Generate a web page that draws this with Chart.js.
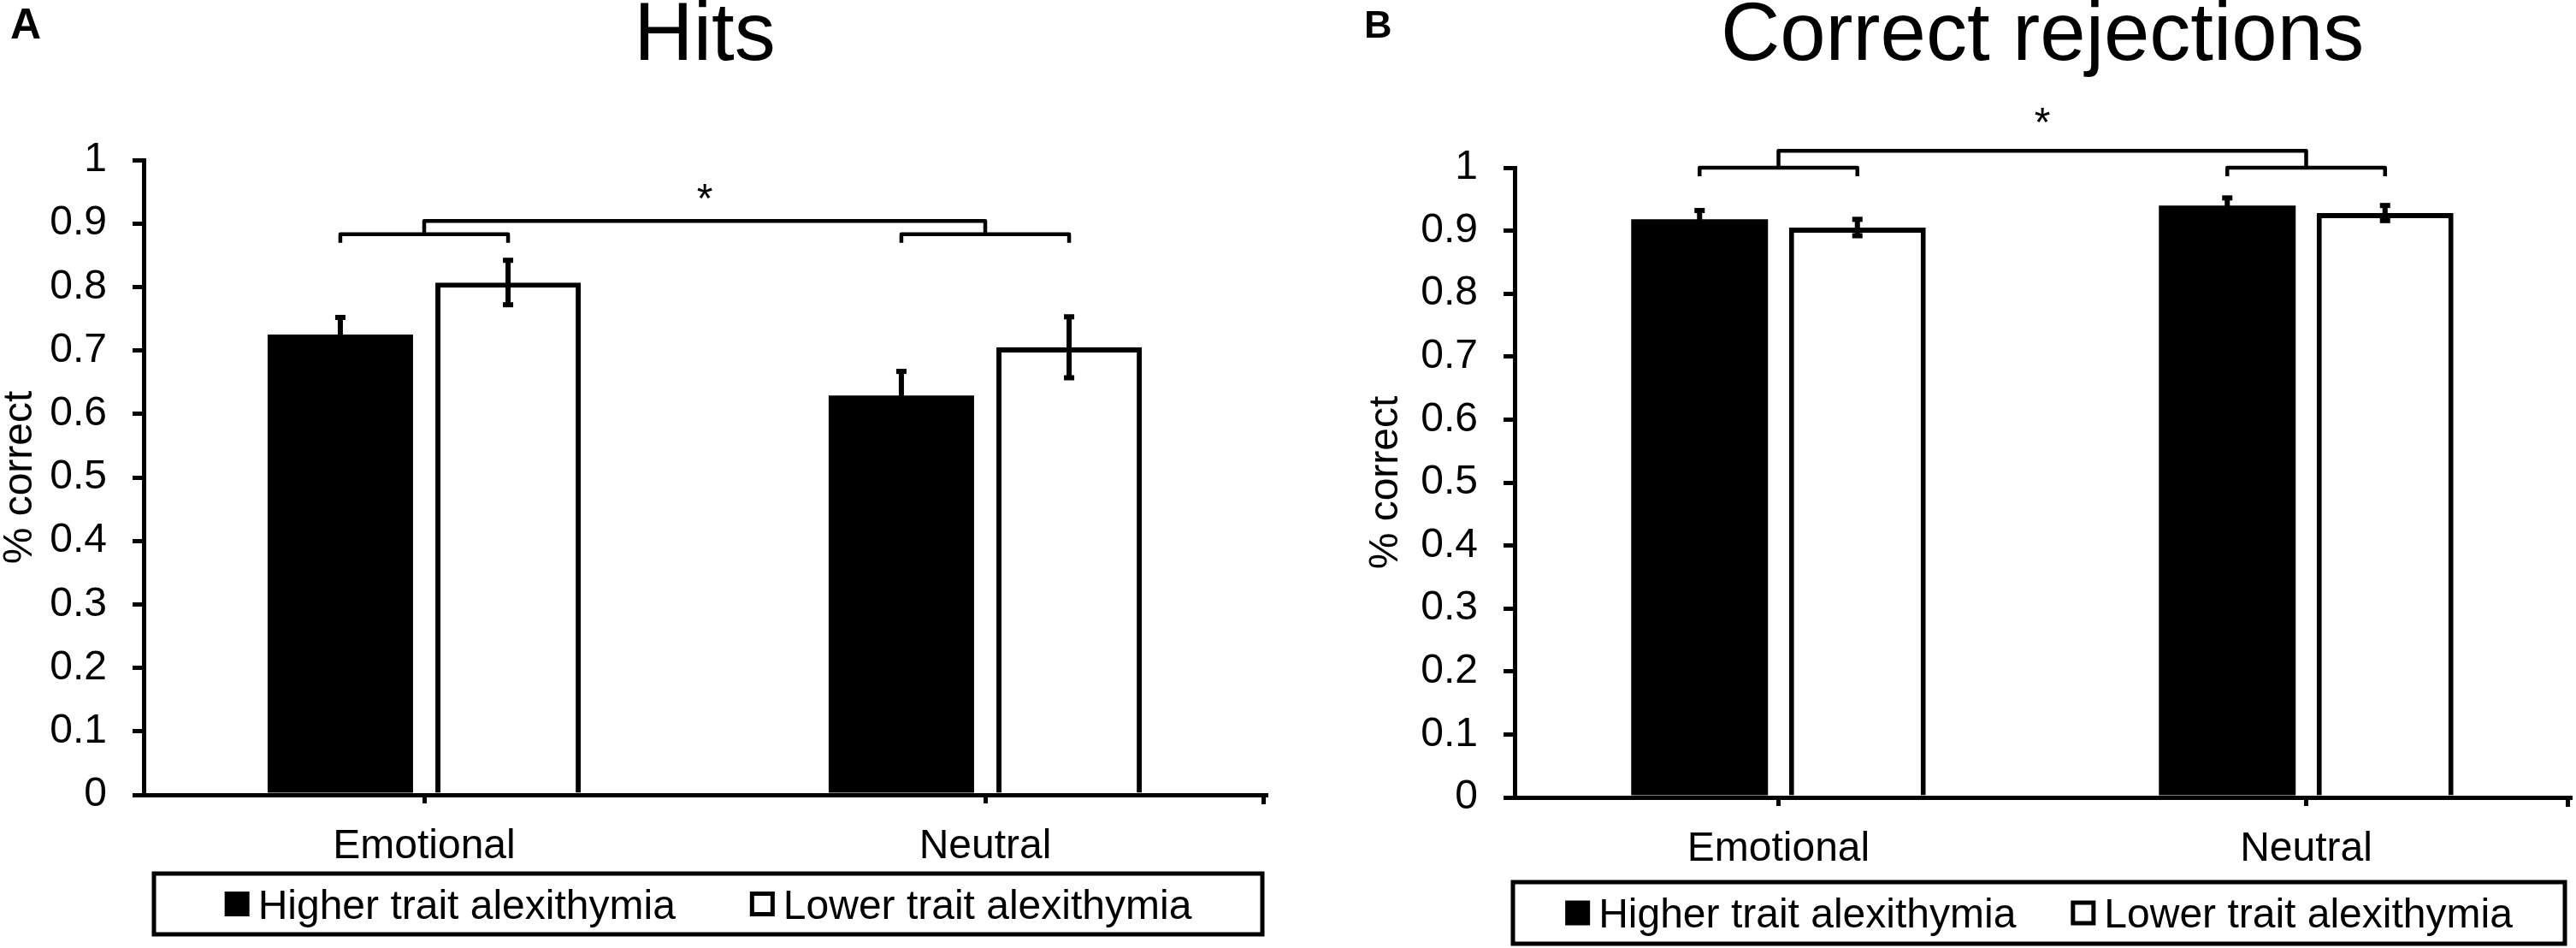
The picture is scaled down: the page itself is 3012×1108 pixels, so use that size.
<!DOCTYPE html>
<html>
<head>
<meta charset="utf-8">
<script src="https://cdn.jsdelivr.net/npm/chart.js@4.4.1/dist/chart.umd.min.js"></script>
<style>
html,body{margin:0;padding:0;background:#fff;overflow:hidden}
#wrap{position:relative;width:3012px;height:1108px;background:#fff}
canvas{position:absolute;top:0}
#hits{left:0}
#rej{left:1506px}
</style>
</head>
<body>
<div id="wrap">
  <canvas id="hits" width="1506" height="1108"></canvas>
  <canvas id="rej" width="1506" height="1108"></canvas>
</div>
<script>
const categories = ['Emotional', 'Neutral']
const seriesNames = ['Higher trait alexithymia', 'Lower trait alexithymia']
const yTickLabels = ['0', '0.1', '0.2', '0.3', '0.4', '0.5', '0.6', '0.7', '0.8', '0.9', '1']

// panel A - hits
const hitsHigher = [0.725, 0.629]
const hitsLower = [0.807, 0.705]
const hitsHigherErr = [0.027, 0.038]
const hitsLowerErr = [0.035, 0.048]
// panel B - correct rejections
const rejHigher = [0.918, 0.940]
const rejLower = [0.905, 0.928]
const rejHigherErr = [0.014, 0.012]
const rejLowerErr = [0.013, 0.012]

// significance marks, in % correct units: pair bracket, main bracket, star
const hitsSig = [0.883, 0.904, 0.954]
const rejSig = [1.0, 1.027, 1.087]

const FONT = '"Liberation Sans", Arial, Helvetica, sans-serif'
Chart.defaults.font.family = FONT
Chart.defaults.color = '#000'

// error bars, brackets, legend box, panel letter
const decor = {
  id: 'decor',
  afterDatasetsDraw(chart, args, o) {
    const ctx = chart.ctx
    const xs = chart.scales.x
    const ys = chart.scales.y
    ctx.save()
    ctx.fillStyle = '#000'
    ctx.strokeStyle = '#000'
    o.errors.forEach((errs, d) => {
      const meta = chart.getDatasetMeta(d)
      meta.data.forEach((bar, j) => {
        const v = chart.data.datasets[d].data[j]
        const yTop = ys.getPixelForValue(v + errs[j])
        const yBot = ys.getPixelForValue(v - errs[j])
        ctx.fillRect(bar.x - 3, yTop, 6, yBot - yTop)
        ctx.fillRect(bar.x - 6, yTop - 3, 12, 6)
        ctx.fillRect(bar.x - 6, yBot - 3, 12, 6)
      })
    })

    const yLo = ys.getPixelForValue(o.sig[0])
    const yHi = ys.getPixelForValue(o.sig[1])
    const yStar = ys.getPixelForValue(o.sig[2])
    const leg = 10
    const m0 = chart.getDatasetMeta(0)
    const m1 = chart.getDatasetMeta(1)
    ctx.lineWidth = 4.5
    ctx.lineJoin = 'round'
    for (let j = 0; j < categories.length; j++) {
      ctx.beginPath()
      ctx.moveTo(m0.data[j].x, yLo + leg)
      ctx.lineTo(m0.data[j].x, yLo)
      ctx.lineTo(m1.data[j].x, yLo)
      ctx.lineTo(m1.data[j].x, yLo + leg)
      ctx.stroke()
    }
    const c0 = xs.getPixelForValue(0)
    const c1 = xs.getPixelForValue(1)
    ctx.beginPath()
    ctx.moveTo(c0, yLo)
    ctx.lineTo(c0, yHi)
    ctx.lineTo(c1, yHi)
    ctx.lineTo(c1, yLo)
    ctx.stroke()
    ctx.font = '48px ' + FONT
    ctx.textAlign = 'center'
    ctx.textBaseline = 'alphabetic'
    ctx.fillText('*', (c0 + c1) / 2, yStar + 27)
    ctx.restore()
  },
  afterDraw(chart, args, o) {
    const ctx = chart.ctx
    const ca = chart.chartArea
    ctx.save()
    ctx.fillStyle = '#000'
    ctx.strokeStyle = '#000'
    // tick at the right end of the category axis
    ctx.fillRect(ca.right - 5, ca.bottom, 5, 11)

    // legend with frame
    const lg = o.legend
    const bx = ca.left + lg.dxL
    const bw = ca.right + lg.dxR - bx
    const by = ca.bottom + lg.top
    ctx.lineWidth = 5
    ctx.strokeRect(bx, by, bw, lg.h)
    ctx.font = '48px ' + FONT
    ctx.textAlign = 'left'
    ctx.textBaseline = 'alphabetic'
    const sq = 29
    const tg = 10
    const ds = chart.data.datasets
    const widths = ds.map(d => sq + tg + ctx.measureText(d.label).width)
    const total = widths.reduce((a, b) => a + b, 0) + lg.gap
    let x = bx + (bw - total) / 2
    const cy = by + lg.h / 2
    ds.forEach((d, i) => {
      if (d.backgroundColor === '#000') {
        ctx.fillRect(x, cy - sq / 2, sq, sq)
      } else {
        ctx.lineWidth = 5
        ctx.strokeRect(x + 2.5, cy - sq / 2 + 2.5, sq - 5, sq - 5)
      }
      ctx.fillText(d.label, x + sq + tg, cy + 17)
      x += widths[i] + lg.gap
    })

    // panel letter
    ctx.font = 'bold ' + o.letterSize + 'px ' + FONT
    ctx.fillText(o.letter, o.letterX, o.letterBase)
    ctx.restore()
  }
}

function makeChart(id, title, higher, lower, higherErr, lowerErr, sig, lay) {
  return new Chart(document.getElementById(id), {
    type: 'bar',
    data: {
      labels: categories,
      datasets: [{
        label: seriesNames[0],
        data: higher,
        backgroundColor: '#000',
        borderColor: '#000',
        borderWidth: 0
      }, {
        label: seriesNames[1],
        data: lower,
        backgroundColor: '#fff',
        borderColor: '#000',
        borderWidth: 6
      }]
    },
    options: {
      responsive: false,
      animation: false,
      layout: {padding: {left: lay.padL, right: lay.padR, top: 0, bottom: 0}},
      datasets: {bar: {categoryPercentage: 0.598, barPercentage: 0.867}},
      plugins: {
        legend: {display: false},
        tooltip: {enabled: false},
        title: {
          display: true,
          text: title,
          fullSize: false,
          color: '#000',
          font: {size: 96, weight: 'normal', lineHeight: 0.9},
          padding: {top: 0, bottom: lay.titleGap}
        },
        decor: {
          errors: [higherErr, lowerErr],
          sig: sig,
          legend: lay.legend,
          letter: lay.letter,
          letterX: lay.letterX,
          letterBase: lay.letterBase,
          letterSize: lay.letterSize
        }
      },
      scales: {
        x: {
          grid: {display: true, drawOnChartArea: false, drawTicks: true, tickLength: 10, lineWidth: 5, color: '#000', offset: false},
          border: {display: true, width: 5, color: '#000'},
          ticks: {font: {size: 48}, color: '#000', padding: 22},
          afterFit: s => { s.height = lay.xH }
        },
        y: {
          min: 0,
          max: 1,
          ticks: {stepSize: 0.1, font: {size: 48}, color: '#000', padding: 30, callback: (v, i) => yTickLabels[i]},
          grid: {drawOnChartArea: false, drawTicks: true, tickLength: 13, lineWidth: 5, color: '#000'},
          border: {display: true, width: 5, color: '#000'},
          title: {display: true, text: '% correct', color: '#000', font: {size: 48, lineHeight: 1}, padding: 0},
          afterFit: s => { s.width = lay.yW }
        }
      }
    },
    plugins: [decor]
  })
}

makeChart('hits', 'Hits', hitsHigher, hitsLower, hitsHigherErr, hitsLowerErr, hitsSig, {
  padL: 0, padR: 26, yW: 168, xH: 179, titleGap: 100.6,
  legend: {dxL: 12, dxR: -4, top: 92, h: 71, gap: 87},
  letter: 'A', letterX: 12, letterBase: 45, letterSize: 50
})
makeChart('rej', 'Correct rejections', rejHigher, rejLower, rejHigherErr, rejLowerErr, rejSig, {
  padL: 91, padR: 7, yW: 174, xH: 176, titleGap: 109.6,
  legend: {dxL: -2, dxR: -6, top: 99, h: 72, gap: 64},
  letter: 'B', letterX: 89, letterBase: 44, letterSize: 45
})
</script>
</body>
</html>
